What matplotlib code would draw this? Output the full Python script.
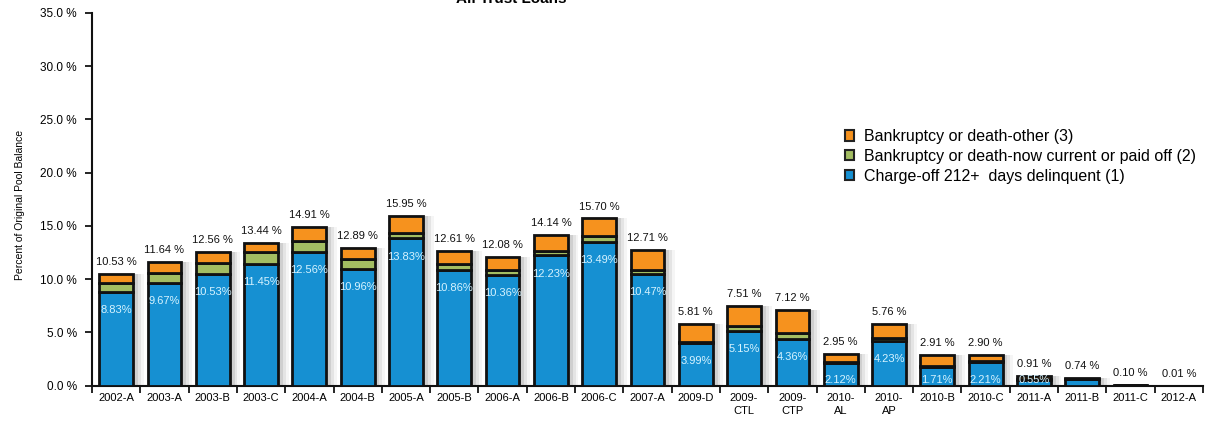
import numpy as np
import matplotlib.pyplot as plt
from matplotlib.patches import Patch

plt.rcParams['font.family'] = ['Liberation Sans', 'DejaVu Sans']

trusts = ['2002-A', '2003-A', '2003-B', '2003-C', '2004-A', '2004-B', '2005-A',
          '2005-B', '2006-A', '2006-B', '2006-C', '2007-A', '2009-D', '2009-\nCTL',
          '2009-\nCTP', '2010-\nAL', '2010-\nAP', '2010-B', '2010-C', '2011-A',
          '2011-B', '2011-C', '2012-A']
# charge-off 212+ days delinquent (1)
chargeoff = [8.83, 9.67, 10.53, 11.45, 12.56, 10.96, 13.83, 10.86, 10.36, 12.23,
             13.49, 10.47, 3.99, 5.15, 4.36, 2.12, 4.23, 1.71, 2.21, 0.55, 0.62,
             0.06, 0.005]
# total of all three categories
totals = [10.53, 11.64, 12.56, 13.44, 14.91, 12.89, 15.95, 12.61, 12.08, 14.14,
          15.70, 12.71, 5.81, 7.51, 7.12, 2.95, 5.76, 2.91, 2.90, 0.91, 0.74,
          0.10, 0.01]
# bankruptcy or death - now current or paid off (2)
bk_current = [0.85, 0.95, 0.95, 1.10, 1.00, 0.95, 0.50, 0.60, 0.50, 0.45, 0.60,
              0.35, 0.15, 0.50, 0.55, 0.10, 0.25, 0.15, 0.10, 0.10, 0.04, 0.02,
              0.002]
show_inner = [True] * 20 + [False] * 3

chargeoff = np.array(chargeoff)
totals = np.array(totals)
bk_current = np.array(bk_current)
bk_other = totals - chargeoff - bk_current

c_blue = '#1690d2'
c_green = '#a3bd62'
c_orange = '#f6921e'

fig = plt.figure(figsize=(12.17, 4.26), dpi=100)
ax = fig.add_axes([0.0756, 0.0946, 0.9129, 0.875])

x = np.arange(len(trusts))
w = 0.7

# soft shadow behind the bars
for dx, a in [(0.10, 0.2), (0.16, 0.14), (0.22, 0.08)]:
    ax.bar(x + dx, totals, w, color='#808080', alpha=a, linewidth=0, zorder=1)

ax.bar(x, chargeoff, w, color=c_blue, edgecolor='#111111', linewidth=2, zorder=3)
ax.bar(x, bk_current, w, bottom=chargeoff, color=c_green, edgecolor='#111111',
       linewidth=2, zorder=3)
ax.bar(x, bk_other, w, bottom=chargeoff + bk_current, color=c_orange,
       edgecolor='#111111', linewidth=2, zorder=3)

for i in range(len(trusts)):
    ax.annotate('%.2f %%' % totals[i], (x[i], totals[i]), xytext=(0, 5),
                textcoords='offset points', ha='center', va='bottom',
                fontsize=8, color='#111111', zorder=5)
    if show_inner[i]:
        ty = max(chargeoff[i] - 1.7, 0.55)
        ax.text(x[i], ty, '%.2f%%' % chargeoff[i], ha='center', va='center',
                fontsize=8, color='#d6f3ff', zorder=5)

ax.set_xlim(-0.5, len(trusts) - 0.5)
ax.set_ylim(0, 35)
ax.set_yticks(np.arange(0, 36, 5))
ax.set_yticklabels(['%.1f %%' % v for v in np.arange(0, 36, 5)], fontsize=8.5)
ax.set_xticks(x)
ax.set_xticklabels(trusts, fontsize=8, linespacing=1.4)
ax.set_xticks(np.arange(-0.5, len(trusts), 1), minor=True)
ax.tick_params(axis='x', which='major', length=0, pad=5)
ax.tick_params(axis='x', which='minor', length=5, width=1.2, direction='out')
ax.tick_params(axis='y', length=5, width=1.2, direction='out', pad=6)

for s in ['top', 'right']:
    ax.spines[s].set_visible(False)
for s in ['left', 'bottom']:
    ax.spines[s].set_linewidth(1.5)
    ax.spines[s].set_color('#111111')

fig.text(0.012, 0.52, 'Percent of Original Pool Balance', rotation=90,
         fontsize=7.5, ha='left', va='center')
fig.text(0.42, 0.992, 'All Trust Loans', fontsize=11, fontweight='bold',
         ha='center', va='baseline')

handles = [Patch(facecolor=c_orange, edgecolor='#222222', linewidth=1.5),
           Patch(facecolor=c_green, edgecolor='#222222', linewidth=1.5),
           Patch(facecolor=c_blue, edgecolor='#222222', linewidth=1.5)]
labels = ['Bankruptcy or death-other (3)',
          'Bankruptcy or death-now current or paid off (2)',
          'Charge-off 212+  days delinquent (1)']
fig.legend(handles, labels, loc='upper left', bbox_to_anchor=(0.689, 0.712),
           frameon=False, fontsize=11.5, handlelength=0.6, handleheight=0.6,
           handletextpad=0.6, labelspacing=0.3, borderaxespad=0)

fig.savefig('out.png', dpi=100, facecolor='white')
